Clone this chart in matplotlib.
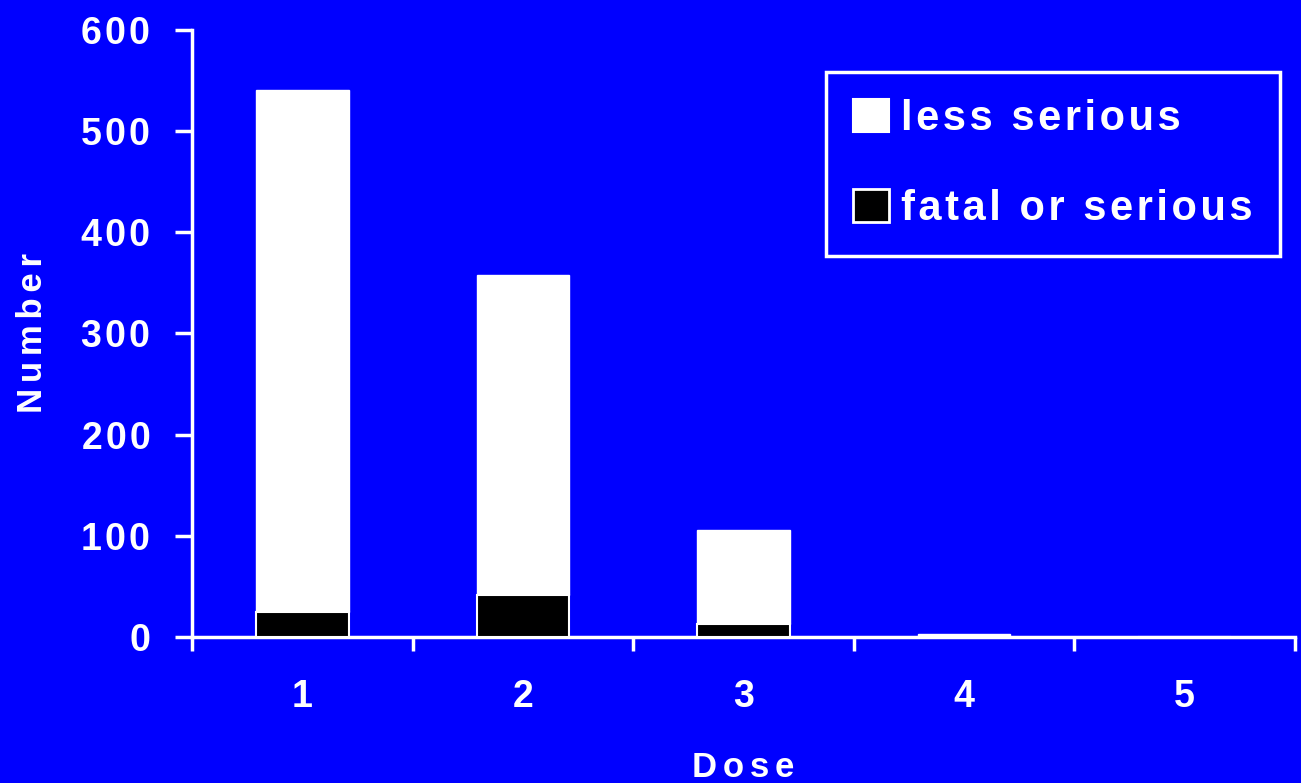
import matplotlib
matplotlib.use("Agg")
import matplotlib.pyplot as plt
from matplotlib.patches import Patch

BLUE = "#0000FF"
FONT = ["Liberation Sans", "DejaVu Sans"]
plt.rcParams["font.family"] = FONT
plt.rcParams["font.weight"] = "bold"
plt.rcParams["axes.labelweight"] = "bold"

doses = [1, 2, 3, 4, 5]
fatal_or_serious = [25, 41, 13, 0, 0]
less_serious = [516, 317, 93, 3, 0]
y_ticks = [0, 100, 200, 300, 400, 500, 600]


def spaced(s, gap="\u200a"):
    # widen letter spacing a little, the way the old slide fonts look
    return gap.join(s)


fig = plt.figure(figsize=(13.01, 7.83), dpi=100, facecolor=BLUE)
ax = fig.add_axes([0.1476, 0.1865, 0.9954 - 0.1476, 0.9617 - 0.1865])
ax.set_facecolor(BLUE)

width = 0.42
ax.bar(doses, fatal_or_serious, width=width, color="black",
       edgecolor="white", linewidth=1.5, zorder=3)
ax.bar(doses, less_serious, width=width, bottom=fatal_or_serious,
       color="white", edgecolor="white", linewidth=1.0, zorder=2)

ax.set_xlim(0.5, 5.5)
ax.set_ylim(0, 600)
ax.set_yticks(y_ticks)
ax.set_yticklabels([spaced(str(v)) for v in y_ticks])
ax.set_xticks(doses)
ax.set_xticklabels([str(d) for d in doses])
# category boundaries carry the tick marks on the x axis
ax.set_xticks([0.5, 1.5, 2.5, 3.5, 4.5, 5.5], minor=True)
ax.tick_params(axis="x", which="major", length=0, pad=30,
               labelsize=27, labelcolor="white")
ax.tick_params(axis="x", which="minor", length=10, width=2.5,
               color="white", direction="out")
ax.tick_params(axis="y", length=12, width=2.5, color="white",
               direction="out", pad=18, labelsize=27, labelcolor="white")

for side in ["top", "right"]:
    ax.spines[side].set_visible(False)
for side in ["left", "bottom"]:
    ax.spines[side].set_color("white")
    ax.spines[side].set_linewidth(2.5)

ax.set_ylabel(spaced("Number", "\u2006"), color="white", fontsize=25, labelpad=23)
ax.set_xlabel(spaced("Dose", "\u2006"), color="white", fontsize=25, labelpad=26)

handles = [Patch(facecolor="white", edgecolor="white", linewidth=1.5),
           Patch(facecolor="black", edgecolor="white", linewidth=2)]
leg = fig.legend(handles, [spaced("less serious"), spaced("fatal or serious")],
                 loc="upper left", bbox_to_anchor=(826 / 1301, 1 - 72 / 783),
                 bbox_transform=fig.transFigure, frameon=True, fancybox=False,
                 facecolor=BLUE, edgecolor="white", framealpha=1, fontsize=30,
                 handlelength=0.86, handleheight=0.82, handletextpad=0.3,
                 labelspacing=1.2, borderpad=0.65, borderaxespad=0)
leg.get_frame().set_linewidth(2.5)
for t in leg.get_texts():
    t.set_color("white")

fig.savefig("out.png", dpi=100, facecolor=BLUE)
